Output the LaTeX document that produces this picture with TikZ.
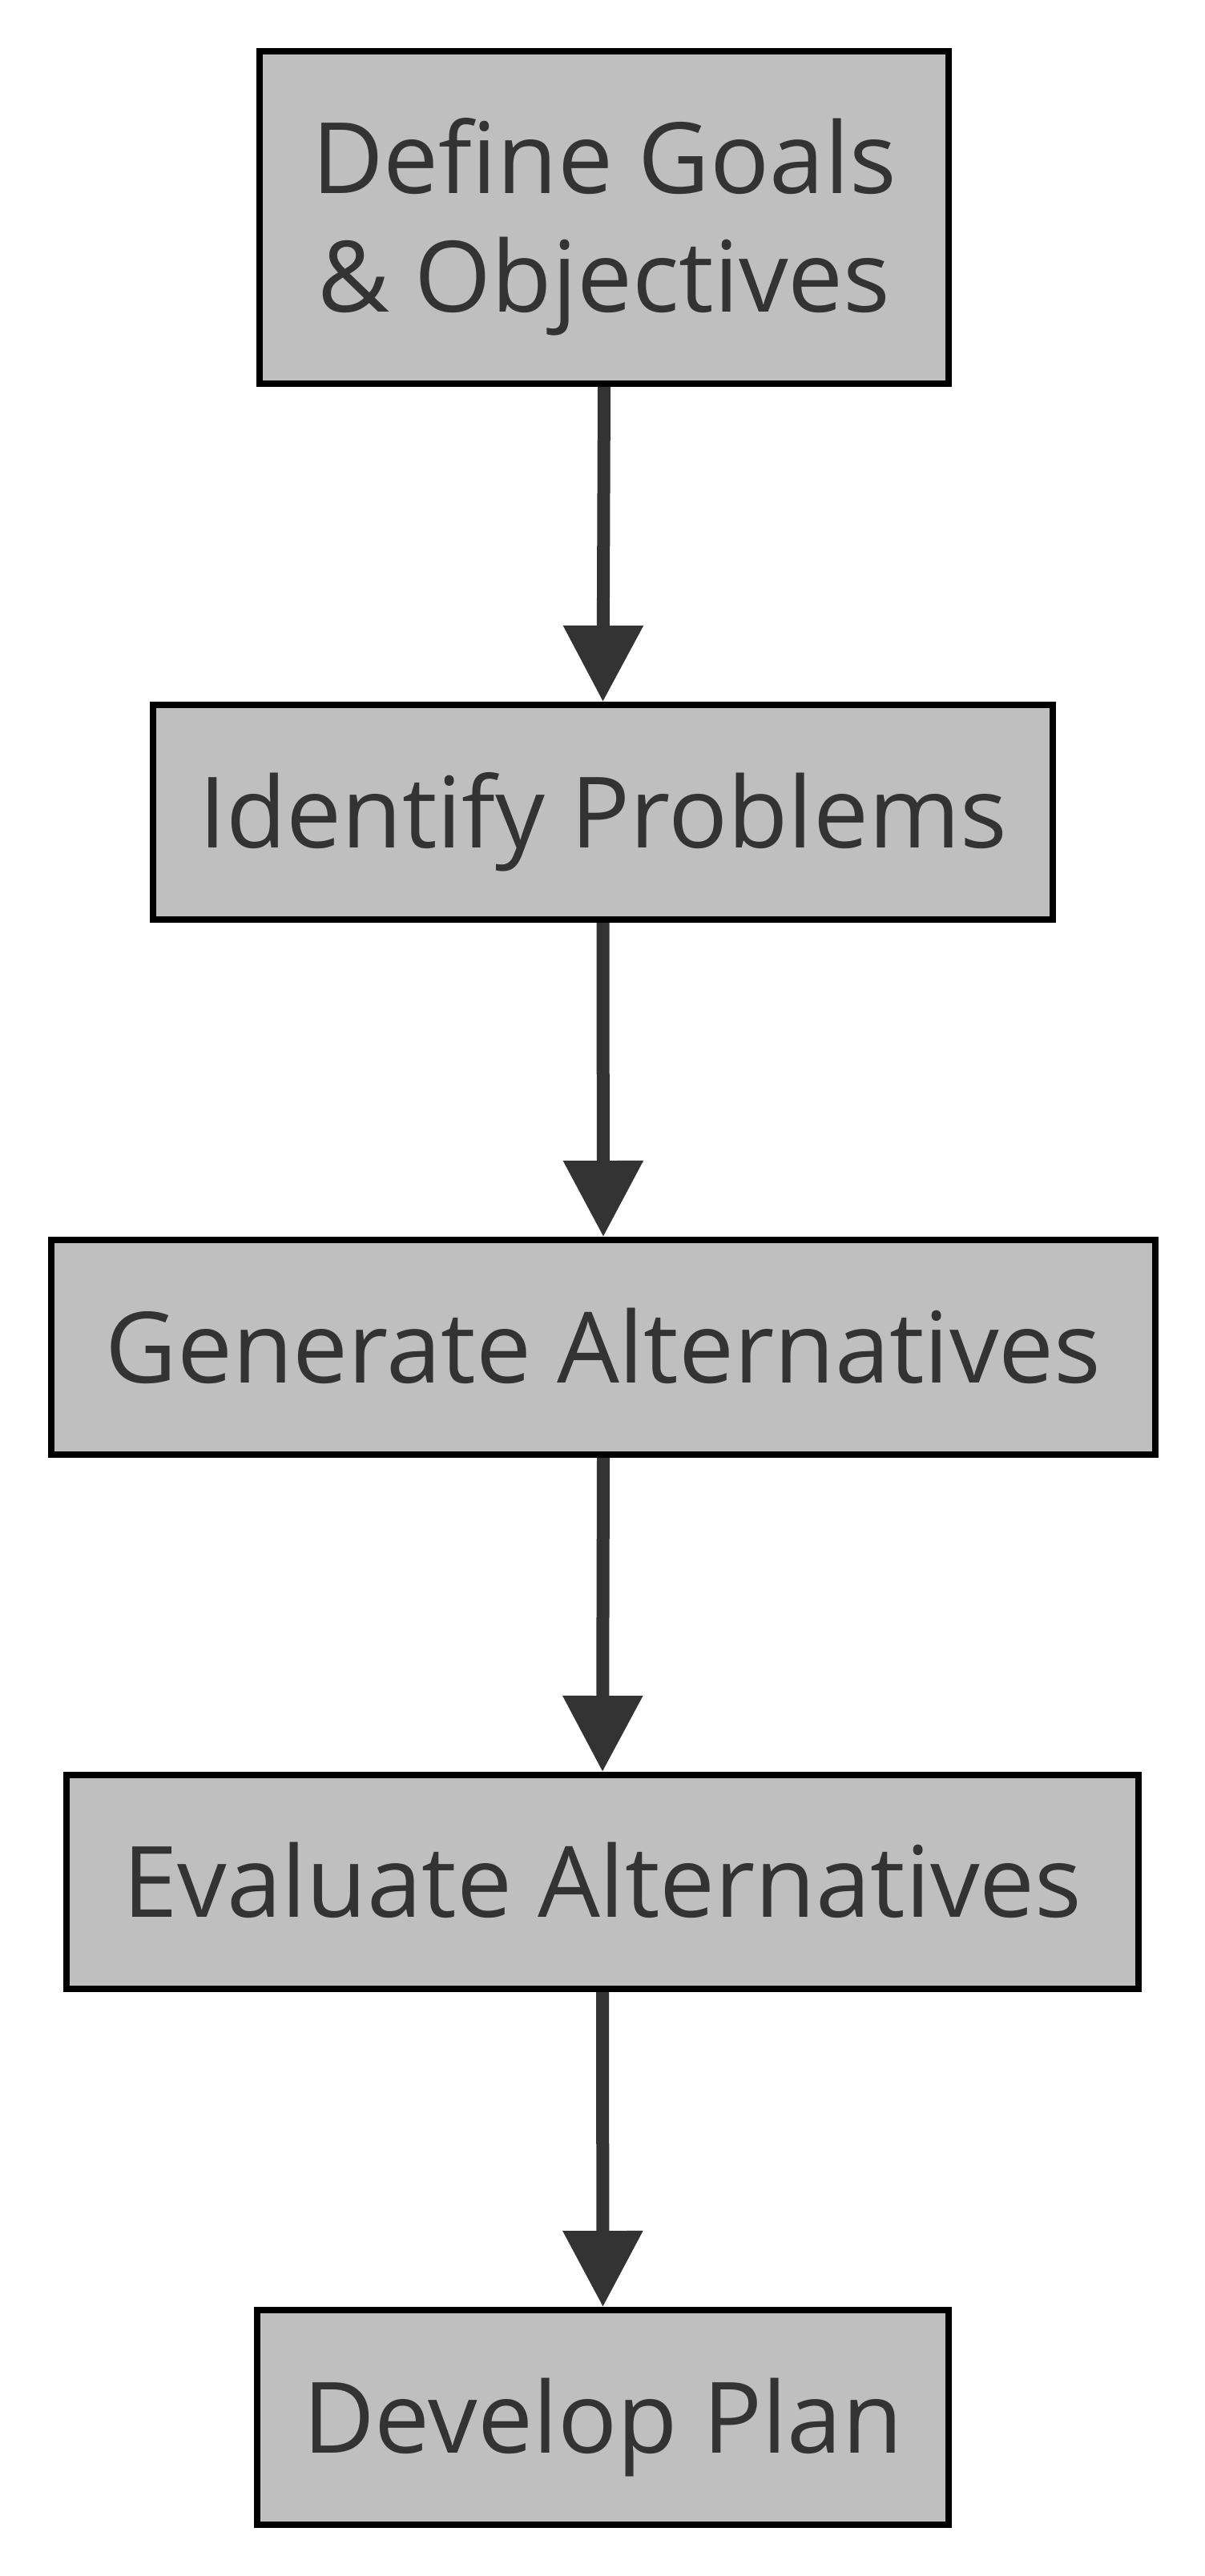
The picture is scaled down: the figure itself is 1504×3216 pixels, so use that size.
\documentclass[tikz,border=0pt]{standalone}
\usepackage{fontspec}
\setmainfont{Open Sans}
\usetikzlibrary{arrows.meta}
\definecolor{boxfill}{HTML}{BFBFBF}
\definecolor{ink}{HTML}{333333}
\tikzset{
  stepbox/.style={rectangle, draw=black, fill=boxfill, line width=8pt,
    text=ink, align=center, inner sep=0pt,
    font=\fontsize{123}{148}\selectfont},
  oneline/.style={text height=88pt, text depth=0pt},
  flow/.style={draw=ink, line width=16pt,
    -{Triangle[length=95pt,width=96pt]}},
}
\begin{document}
\begin{tikzpicture}[x=1pt,y=-1pt]
\useasboundingbox (0,0) rectangle (1504,3216);
\node[stepbox, minimum width=860pt, minimum height=415pt, text height=236pt, text depth=0pt] (goals) at (754,271.5) {Define Goals\\\& Objectives};
\node[stepbox, oneline, minimum width=1123pt, minimum height=268pt] (problems) at (752.5,1014) {Identify Problems};
\node[stepbox, oneline, minimum width=1378pt, minimum height=268pt] (generate) at (753,1682) {Generate Alternatives};
\node[stepbox, oneline, minimum width=1338pt, minimum height=267pt] (evaluate) at (752,2349.5) {Evaluate Alternatives};
\node[stepbox, oneline, minimum width=863pt, minimum height=268pt] (plan) at (752.5,3018) {Develop Plan};
\draw[flow] (goals.south) -- (problems.north);
\draw[flow] (problems.south) -- (generate.north);
\draw[flow] (generate.south) -- (evaluate.north);
\draw[flow] (evaluate.south) -- (plan.north);
\end{tikzpicture}
\end{document}
